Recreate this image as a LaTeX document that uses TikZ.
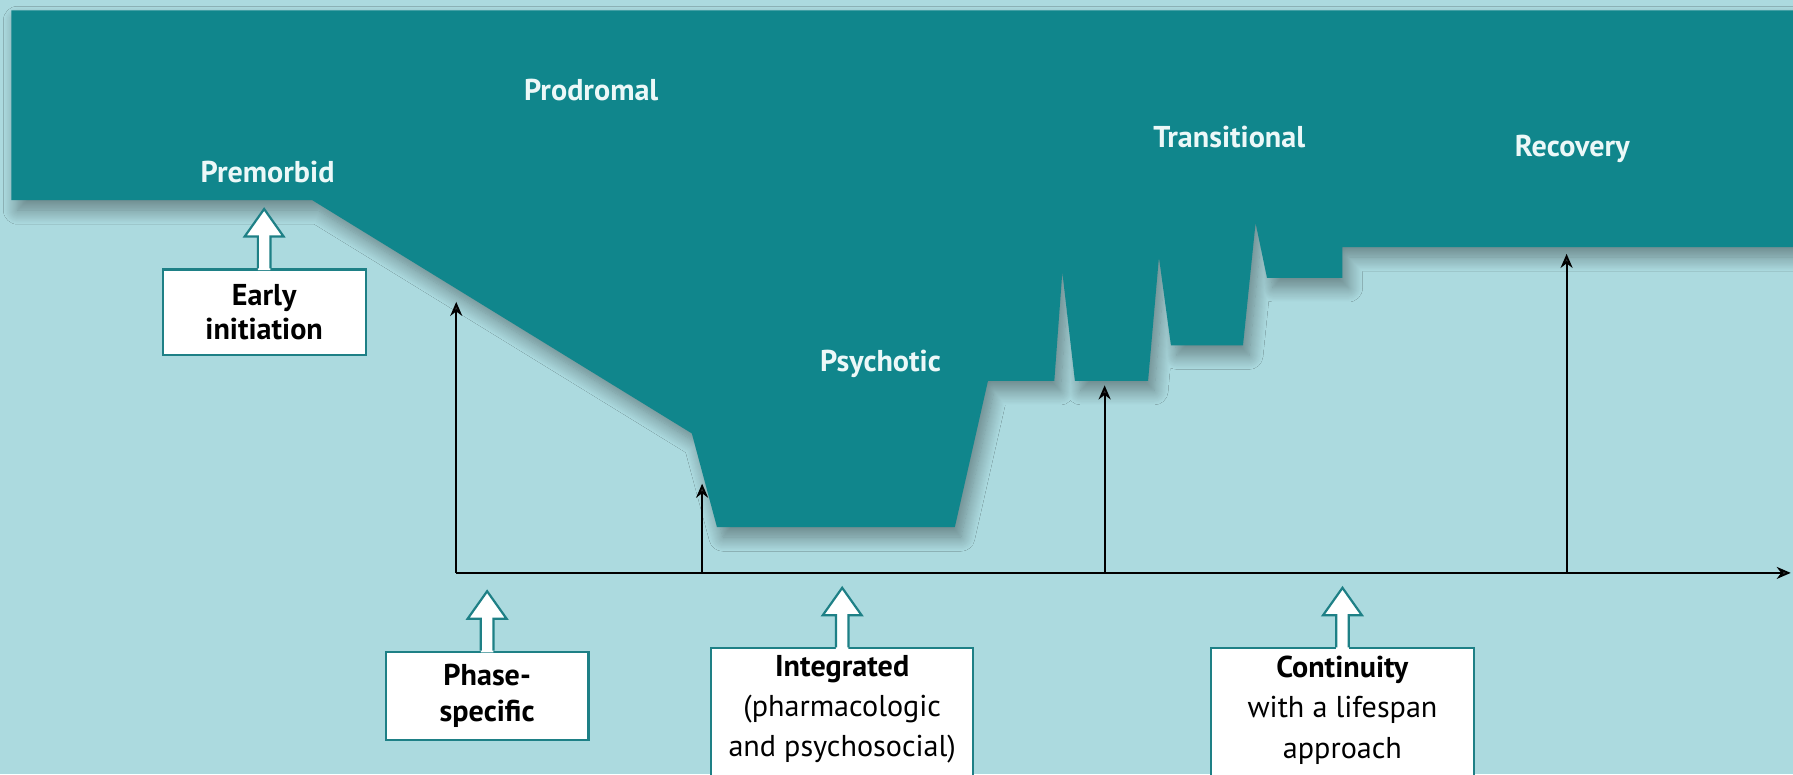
\documentclass[tikz,border=0pt]{standalone}
\usepackage{fontspec}
\setmainfont{PT Sans}
\usetikzlibrary{arrows.meta,calc,shadows.blur}
\definecolor{bg}{RGB}{172,218,223}
\definecolor{teal1}{RGB}{16,134,140}
\definecolor{tealb}{RGB}{30,128,134}
\definecolor{lbl}{RGB}{236,248,248}
\tikzset{
  phase/.style={text=lbl, font=\fontsize{15}{18}\selectfont\bfseries, inner sep=0pt},
  infobox/.style={draw=tealb, fill=white, line width=1.1pt, inner sep=0pt, align=center, font=\fontsize{15}{17.5}\selectfont},
  boxtext/.style={align=center, inner sep=0pt, font=\fontsize{15}{20}\selectfont},
  axisarrow/.style={line width=0.9pt, -{Stealth[length=7pt,width=6pt]}},
}
\newcommand{\hollowup}[1]{%
  \fill[white] ($(#1.north)+(-5.5,1.5)$) -- ++(0,-29.5) -- ++(-11.5,0) -- ++(17,-24) -- ++(17,24) -- ++(-11.5,0) -- ++(0,29.5) -- cycle;
  \draw[tealb, line width=1.1pt, line join=miter] ($(#1.north)+(-5.5,0)$) -- ++(0,-28) -- ++(-11.5,0) -- ++(17,-24) -- ++(17,24) -- ++(-11.5,0) -- ++(0,28);
}
\begin{document}
\begin{tikzpicture}[x=0.02cm,y=-0.02cm]
\fill[bg] (0,0) rectangle (1568,677);
\useasboundingbox (0,0) rectangle (1568,677);
\clip (0,0) rectangle (1568,677);
% main band
\fill[teal1, blur shadow={shadow xshift=3pt, shadow yshift=-5pt, shadow opacity=40, shadow blur radius=7pt, shadow blur steps=14}]
  (10,9) -- (1580,9) -- (1580,216) -- (1174,216) -- (1174,243) -- (1108,243)
  -- (1098,195) -- (1087,302) -- (1024,302) -- (1013.5,225) -- (1004,333)
  -- (940,333) -- (929,238) -- (922,333) -- (864,333) -- (835,461) -- (627,461)
  -- (605,379) -- (273,175) -- (10,175) -- cycle;
% phase labels
\node[phase] (premorbid) at (234,150) {Premorbid};
\node[phase] (prodromal) at (517,79) {Prodromal};
\node[phase] (psychotic) at (770,318) {Psychotic};
\node[phase] (transitional) at (1075,120) {Transitional};
\node[phase] (recovery) at (1375,130) {Recovery};
% axis
\coordinate (o) at (399,501);
\coordinate (xend) at (1566,501);
\coordinate (t1) at (399,264);
\coordinate (b2) at (614,501);
\coordinate (t2) at (614,423);
\coordinate (b3) at (966,501);
\coordinate (t3) at (966,337);
\coordinate (b4) at (1370,501);
\coordinate (t4) at (1370,222);
\draw[axisarrow] (o) -- (xend);
\draw[axisarrow] (o) -- (t1);
\draw[axisarrow] (b2) -- (t2);
\draw[axisarrow] (b3) -- (t3);
\draw[axisarrow] (b4) -- (t4);
% boxes
\node[infobox, minimum width=3.55cm, minimum height=1.49cm, font=\fontsize{15}{17}\selectfont\bfseries] (early) at (231,273) {Early\\initiation};
\node[infobox, minimum width=3.55cm, minimum height=1.54cm, font=\fontsize{15}{18}\selectfont\bfseries] (phasebox) at (426,608.5) {Phase-\\specific};
\node[infobox, minimum width=4.58cm, minimum height=2.46cm] (integ) at (736.5,628.5) {};
\node[boxtext] (integtext) at (736.5,620) {\textbf{Integrated}\\(pharmacologic\\and psychosocial)};
\node[infobox, minimum width=4.6cm, minimum height=2.46cm] (contin) at (1174,628.5) {};
\node[boxtext] (contintext) at (1174,621) {\textbf{Continuity}\\with a lifespan\\approach};
\hollowup{early}
\hollowup{phasebox}
\hollowup{integ}
\hollowup{contin}
\end{tikzpicture}
\end{document}
